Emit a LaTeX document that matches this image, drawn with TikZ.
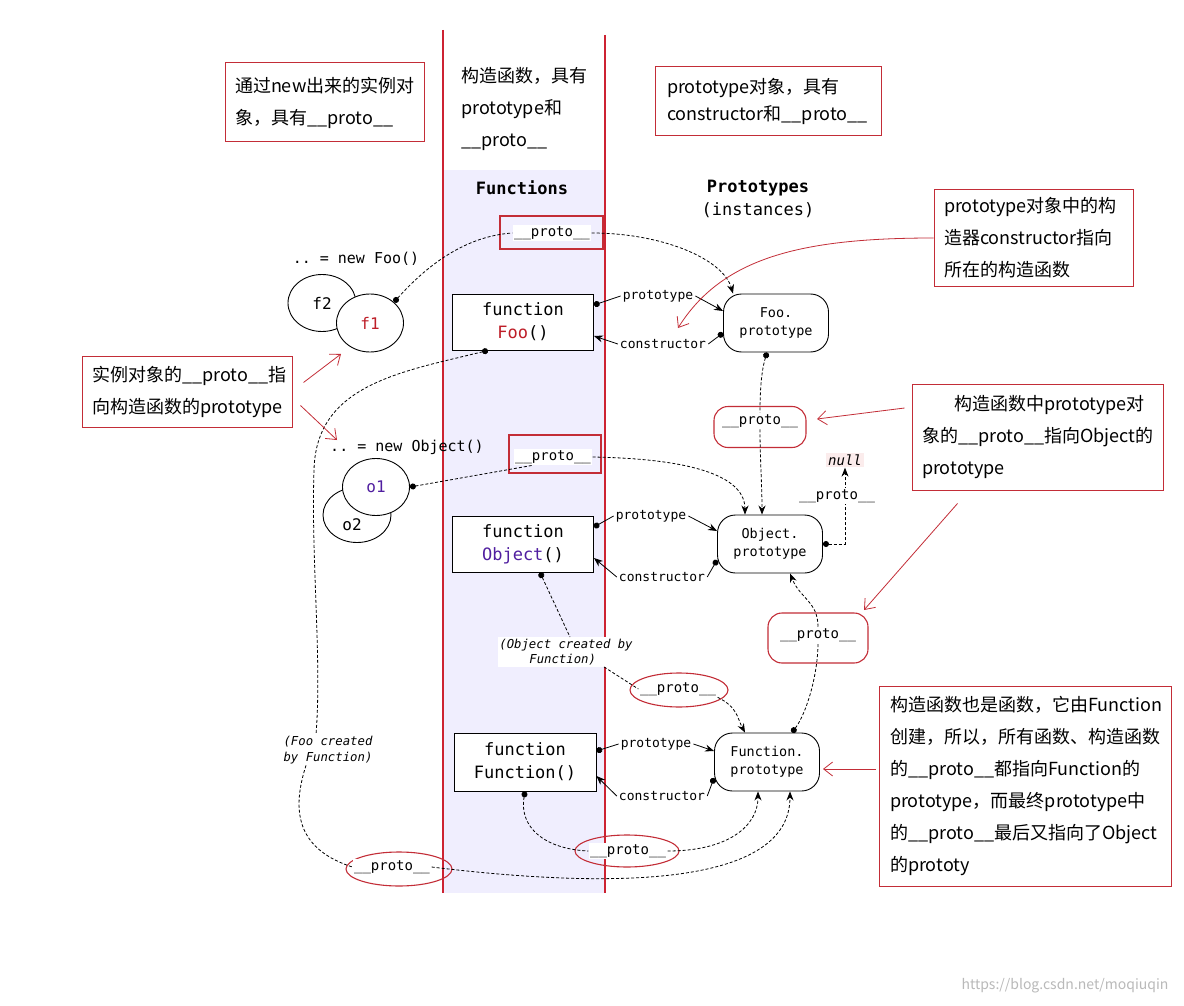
\documentclass[tikz,border=0pt]{standalone}
\usepackage{fontspec}
\setmonofont{DejaVu Sans Mono}
\newfontfamily\cjk{Noto Sans CJK SC}
\usetikzlibrary{arrows.meta,shapes.geometric}

\definecolor{colred}{RGB}{205,35,50}
\definecolor{notered}{RGB}{195,45,55}
\definecolor{lav}{RGB}{240,238,254}
\definecolor{fooRed}{RGB}{190,30,40}
\definecolor{objPurple}{RGB}{80,30,160}
\definecolor{nullbg}{RGB}{251,236,236}

\newcommand\fnfont{\ttfamily\fontsize{17}{23}\selectfont}
\newcommand\lblfont{\ttfamily\fontsize{14}{17}\selectfont}
\newcommand\edgefont{\ttfamily\fontsize{13}{16}\selectfont}
\newcommand\notefont{\cjk\fontsize{18}{32}\selectfont}
\newcommand\pp{\_\_proto\_\_}

\tikzset{
  fnbox/.style={draw, fill=white, line width=0.9pt, minimum width=141, minimum height=56, align=center, font=\fnfont, inner sep=0},
  protobox/.style={draw, fill=white, line width=0.9pt, rounded corners=18, minimum width=105, minimum height=58, align=center, font=\ttfamily\fontsize{13.5}{18}\selectfont, inner sep=0},
  inst/.style={ellipse, draw, fill=white, line width=0.9pt, inner sep=0, font=\ttfamily\fontsize{16}{18}\selectfont},
  lbl/.style={fill=white, inner sep=1.5, font=\lblfont},
  edgelbl/.style={inner sep=2, font=\edgefont},
  italbl/.style={fill=white, inner sep=1.5, align=left, font=\ttfamily\itshape\fontsize{12.3}{15.5}\selectfont},
  hlbox/.style={draw=notered, line width=1.1pt},
  hlring/.style={ellipse, draw=notered, line width=1.1pt},
  note/.style={draw=notered, line width=1pt, align=left, font=\notefont, inner xsep=10, inner ysep=0},
  dl/.style={dash pattern=on 3pt off 2pt, line width=0.8pt},
  solidl/.style={line width=0.8pt},
  pointer/.style={arrows={-Stealth[length=9pt,width=7pt]}},
  dotline/.style={arrows={Circle[length=6pt]-}},
  dotpointer/.style={arrows={Circle[length=6pt]-Stealth[length=9pt,width=7pt]}},
  redarr/.style={draw=notered, line width=0.8pt, arrows={-Straight Barb[length=9pt,width=14pt]}}
}

\begin{document}
\begin{tikzpicture}[x=1pt,y=-1pt]
\useasboundingbox (0,0) rectangle (1184,1006);
\fill[white] (0,0) rectangle (1184,1006);

% functions column
\fill[lav] (443,170) rectangle (605,893);
\draw[colred, line width=1.3pt] (443,30) -- (443,893) (605,35) -- (605,893);

% notes
\node[note, minimum width=199, minimum height=79, text width=179] (noteNew) at (324.5,102.5) {通过new出来的实例对\\象，具有\pp};
\node[font=\notefont, align=left, anchor=west, inner sep=0] (noteFn) at (461,109) {构造函数，具有\\prototype和\\\pp};
\node[note, font=\cjk\fontsize{18}{27}\selectfont, inner xsep=12, minimum width=226, minimum height=69, text width=202] (noteProto) at (768,101.5) {prototype对象，具有\\constructor和\pp};
\node[note, minimum width=199, minimum height=96, text width=179] (noteCtor) at (1033.5,238) {prototype对象中的构\\造器constructor指向\\所在的构造函数};
\node[note, minimum width=210, minimum height=71, text width=190] (noteInst) at (187,391.5) {实例对象的\pp 指\\向构造函数的prototype};
\node[note, minimum width=251, minimum height=106, text width=231] (noteObjP) at (1037.5,437) {\hspace*{32pt}构造函数中prototype对\\象的\pp 指向Object的\\prototype};
\node[note, inner xsep=11, minimum width=292, minimum height=200, text width=270] (noteFun) at (1025,786) {构造函数也是函数，它由Function\\创建，所以，所有函数、构造函数\\的\pp 都指向Function的\\prototype，而最终prototype中\\的\pp 最后又指向了Object\\的prototy};

% headings
\node[font=\fnfont\bfseries] (hFn) at (522,188) {Functions};
\node[font=\fnfont, align=center] (hProto) at (758,198.5) {\textbf{Prototypes}\\(instances)};

% instances
\node[font=\ttfamily\fontsize{15}{18}\selectfont] (newFoo) at (356,259) {.. = new Foo()};
\node[inst, minimum width=68, minimum height=57] (f2) at (322,303) {f2};
\node[inst, minimum width=67, minimum height=58, text=fooRed] (f1) at (370,323) {f1};
\node[font=\ttfamily\fontsize{15}{18}\selectfont] (newObj) at (407,447) {.. = new Object()};
\node[inst, minimum width=68, minimum height=55] (o2) at (357,515) {};
\node[font=\ttfamily\fontsize{16}{18}\selectfont] (o2txt) at (352,525) {o2};
\node[inst, minimum width=67, minimum height=57, text=objPurple] (o1) at (376,487) {o1};

% functions
\node[fnbox] (fooFn) at (523,322) {function\\\textcolor{fooRed}{Foo}()};
\node[fnbox] (objFn) at (523,544) {function\\\textcolor{objPurple}{Object}()};
\node[fnbox, minimum width=142, minimum height=58] (funFn) at (525,762) {function\\Function()};

% prototypes
\node[protobox] (fooProto) at (776,323) {Foo.\\prototype};
\node[protobox] (objProto) at (770,544) {Object.\\prototype};
\node[protobox] (funProto) at (767,762) {Function.\\prototype};
\node[fill=nullbg, inner sep=2, font=\ttfamily\itshape\fontsize{14}{16}\selectfont] (nullN) at (845,460) {null};

% highlighted __proto__ marks
\node[hlbox, minimum width=103, minimum height=33] (pFooBox) at (551.5,232.5) {};
\node[hlbox, minimum width=92, minimum height=38] (pObjBox) at (555,454) {};
\node[hlbox, rounded corners=14, minimum width=92, minimum height=41] (pFooPBox) at (760,427) {};
\node[hlbox, rounded corners=14, minimum width=100, minimum height=50] (pObjPBox) at (818,638) {};
\node[hlring, minimum width=98, minimum height=34] (pObjFnRing) at (679,690) {};
\node[hlring, minimum width=104, minimum height=32] (pFunFnRing) at (627,851) {};
\node[hlring, minimum width=106, minimum height=34] (pFooFnRing) at (399,869) {};

% __proto__ labels
\node[lbl] (pFoo) at (552,233) {\pp};
\node[lbl] (pObj) at (553,457) {\pp};
\node[lbl] (pFooP) at (760,421) {\pp};
\node[lbl] (pObjP) at (818,635) {\pp};
\node[lbl] (pObjFn) at (678,689) {\pp};
\node[lbl] (pFunFn) at (628,851) {\pp};
\node[lbl] (pFooFn) at (392,867) {\pp};
\node[italbl] (objLbl) at (566,652) {(Object created by\\\hspace*{30pt}Function)};
\node[italbl] (fooLbl) at (328,750) {(Foo created\\by Function)};

% prototype / constructor labels
\node[edgelbl] (lblFooP) at (658,296) {prototype};
\node[edgelbl] (lblFooC) at (663,344) {constructor};
\node[edgelbl] (lblObjP) at (651,516) {prototype};
\node[edgelbl] (lblObjC) at (662,577) {constructor};
\node[edgelbl] (lblFunP) at (656,744) {prototype};
\node[edgelbl] (lblFunC) at (662,796) {constructor};

% prototype and constructor links
\draw[solidl, dotline] ([yshift=17]fooFn.east) -- (lblFooP.west);
\draw[solidl, pointer] (lblFooP.east) -- ([yshift=12]fooProto.west);
\draw[solidl, dotline] ([yshift=-10]fooProto.west) -- (lblFooC.east);
\draw[solidl, pointer] (lblFooC.west) -- ([yshift=-14]fooFn.east);
\draw[solidl, dotline] ([yshift=17]objFn.east) -- (lblObjP.west);
\draw[solidl, pointer] (lblObjP.east) -- ([yshift=13]objProto.west);
\draw[solidl, dotline] ([yshift=-16]objProto.west) -- (lblObjC.east);
\draw[solidl, pointer] (lblObjC.west) -- ([yshift=-14]objFn.east);
\draw[solidl, dotline] ([yshift=11]funFn.east) -- (lblFunP.west);
\draw[solidl, pointer] (lblFunP.east) -- ([yshift=11]funProto.west);
\draw[solidl, dotline] ([yshift=-16]funProto.west) -- (lblFunC.east);
\draw[solidl, pointer] (lblFunC.west) -- ([yshift=-14]funFn.east);

% __proto__ chains
\draw[dl, dotline] (f1.north east) .. controls (430,262) and (468,236) .. (pFoo.west);
\draw[dl, pointer] (pFoo.east) .. controls +(70,0) and +(-10,-35) .. ([xshift=-43]fooProto.north);
\draw[dl, dotline] (o1.east) -- ([xshift=-20]pObj.south);
\draw[dl, pointer] (pObj.east) .. controls +(110,2) and +(0,-35) .. ([xshift=-25]objProto.north);
\draw[dl, dotline] ([xshift=-9]fooProto.south) .. controls +(-6,20) and +(0,-20) .. (pFooP.north);
\draw[dl, pointer] (pFooP.south) .. controls +(0,30) and +(0,-30) .. ([xshift=-8]objProto.north);
\draw[dl, dotpointer] (objProto.east) -| (nullN.south);
\node[lbl] (pNull) at (837,496) {\pp};
\draw[dl, dotline] ([xshift=25]funProto.north) .. controls +(15,-20) and +(0,30) .. (pObjP.south);
\draw[dl, pointer] (pObjP.north) .. controls +(0,-25) and +(10,25) .. ([xshift=20]objProto.south);
\draw[dl, dotline] ([xshift=17]objFn.south) -- ([xshift=4]objLbl.north);
\draw[dl] ([xshift=38]objLbl.south) -- (pObjFn.west);
\draw[dl, pointer] (pObjFn.south east) .. controls +(20,10) and +(-8,-15) .. ([xshift=-22]funProto.north);
\draw[dl, dotline] (funFn.south) .. controls +(-6,35) and +(-45,-2) .. (pFunFn.west);
\draw[dl, pointer] (pFunFn.east) .. controls +(60,0) and +(0,35) .. ([xshift=-9]funProto.south);
\draw[dl, dotline] ([xshift=-35]fooFn.south) .. controls (400,372) and (316,385) .. (314,470) .. controls (311,560) and (322,660) .. ([xshift=-12]fooLbl.north);
\draw[dl] ([xshift=-22]fooLbl.south) .. controls (290,815) and (300,850) .. (pFooFn.west);
\draw[dl, pointer] (pFooFn.east) .. controls (620,890) and (790,885) .. ([xshift=23]funProto.south);

% note pointers
\coordinate (ctorTip) at (678,328);
\draw[redarr] (noteCtor.west) .. controls (800,238) and (722,258) .. (ctorTip);
\coordinate (f1Tip) at (341,354);
\draw[redarr] ([xshift=11,yshift=9]noteInst.east) -- (f1Tip);
\coordinate (newObjTip) at (337,440);
\draw[redarr] ([xshift=8,yshift=-14]noteInst.east) -- (newObjTip);
\coordinate (fooPTip) at (817,419);
\draw[redarr] ([xshift=-7,yshift=29]noteObjP.west) -- (fooPTip);
\coordinate (objPTip) at (864,610);
\draw[redarr] ([xshift=-80,yshift=-13]noteObjP.south) -- (objPTip);
\coordinate (funPTip) at (823,769);
\draw[redarr] ([xshift=-3,yshift=17]noteFun.west) -- (funPTip);

\node[font=\cjk\fontsize{14}{16}\selectfont, text=gray!55] (wm) at (1065,986) {https://blog.csdn.net/moqiuqin};
\end{tikzpicture}
\end{document}
